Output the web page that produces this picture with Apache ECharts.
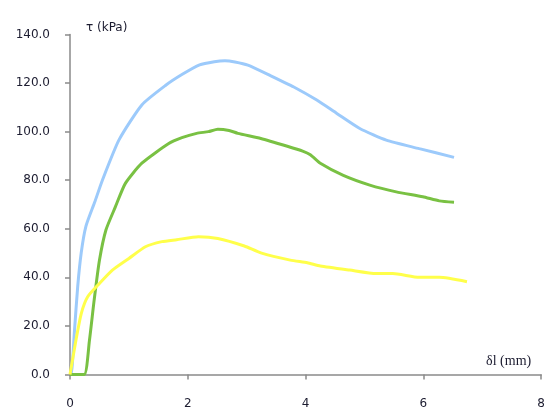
<!DOCTYPE html>
<html>
<head>
<meta charset="utf-8">
<script src="https://cdn.jsdelivr.net/npm/echarts@6/dist/echarts.min.js"></script>
<style>html,body{margin:0;padding:0;background:#fff}#c{width:548px;height:411px}</style>
</head>
<body>
<div id="c"></div>
<script>
var xTicks = [0, 2, 4, 6, 8];
var yTicks = [0, 20, 40, 60, 80, 100, 120, 140];

var blueX = [0, 0.02, 0.076, 0.13, 0.19, 0.27, 0.42, 0.55, 0.83, 1.22, 1.62, 1.9, 2.2, 2.45, 2.63, 2.8, 3.02, 3.41, 3.8, 4.19, 4.53, 4.92, 5.37, 5.93, 6.52];
var blueY = [0, 0, 18, 36, 50, 61, 71, 80, 96.5, 111, 119, 123.5, 127.5, 128.8, 129.2, 128.7, 127.4, 123, 118.4, 113, 107.5, 101.3, 96.5, 93, 89.4];

var greenX = [0, 0.24, 0.33, 0.41, 0.5, 0.61, 0.77, 0.94, 1.22, 1.67, 1.9, 2.15, 2.35, 2.51, 2.7, 2.85, 3.24, 3.69, 3.95, 4.08, 4.25, 4.64, 5.09, 5.54, 5.99, 6.27, 6.52];
var greenY = [0, 0, 14, 30.6, 47, 59.5, 69, 78.7, 87, 95, 97.5, 99.3, 100, 101, 100.5, 99.3, 97.2, 94, 92, 90.5, 87, 82, 78, 75.2, 73.2, 71.5, 70.9];

var yellowX = [0, 0.1, 0.19, 0.3, 0.5, 0.72, 1.0, 1.28, 1.56, 1.81, 2.18, 2.51, 2.96, 3.24, 3.74, 4.03, 4.25, 4.75, 5.2, 5.48, 5.93, 6.27, 6.74];
var yellowY = [0, 14, 25, 32, 37.5, 43, 47.8, 52.6, 54.7, 55.5, 56.7, 56, 52.9, 50.1, 47.1, 46, 44.7, 43, 41.6, 41.6, 40, 40, 38.2];

function pairs(xs, ys) { return xs.map(function (x, i) { return [x, ys[i]]; }); }

var chart = echarts.init(document.getElementById('c'), null, {renderer: 'canvas'});
var labelFont = {fontFamily: 'DejaVu Sans', fontSize: 12, color: '#1c1c30'};
var axisLine = {show: true, lineStyle: {color: '#8a8a8a', width: 1.5}};
var lineStyleBase = {width: 3};
chart.setOption({
  animation: false,
  backgroundColor: '#ffffff',
  grid: {left: 70, right: 1, top: 34.5, bottom: 36.5, containLabel: false},
  xAxis: {
    type: 'value', min: xTicks[0], max: xTicks[xTicks.length - 1], interval: 2,
    axisLine: axisLine,
    axisTick: {show: true, length: 5, lineStyle: {color: '#8a8a8a', width: 1.5}},
    splitLine: {show: false},
    axisLabel: Object.assign({margin: 23, showMaxLabel: true}, labelFont),
    name: 'δl (mm)', nameLocation: 'end', nameGap: -10,
    nameTextStyle: {fontFamily: 'Liberation Serif', fontSize: 14, color: '#1c1c30',
      align: 'right', verticalAlign: 'bottom', padding: [0, 0, 6, 0]}
  },
  yAxis: {
    type: 'value', min: yTicks[0], max: yTicks[yTicks.length - 1], interval: 20,
    axisLine: axisLine,
    axisTick: {show: true, length: 5, lineStyle: {color: '#8a8a8a', width: 1.5}},
    splitLine: {show: false},
    axisLabel: Object.assign({margin: 20, formatter: function (v) { return v.toFixed(1); }}, labelFont),
    name: 'τ (kPa)', nameLocation: 'end', nameGap: 6.5,
    nameTextStyle: Object.assign({align: 'left', verticalAlign: 'middle', padding: [0, 0, 0, 16]}, labelFont)
  },
  series: [
    {type: 'line', data: pairs(blueX, blueY), showSymbol: false, smooth: 0.2,
     lineStyle: Object.assign({color: '#9ccafb'}, lineStyleBase), itemStyle: {color: '#9ccafb'}},
    {type: 'line', data: pairs(greenX, greenY), showSymbol: false, smooth: 0.2,
     lineStyle: Object.assign({color: '#79c143'}, lineStyleBase), itemStyle: {color: '#79c143'}},
    {type: 'line', data: pairs(yellowX, yellowY), showSymbol: false, smooth: 0.2,
     lineStyle: Object.assign({color: '#ffff4a'}, lineStyleBase), itemStyle: {color: '#ffff4a'}}
  ]
});
</script>
</body>
</html>
